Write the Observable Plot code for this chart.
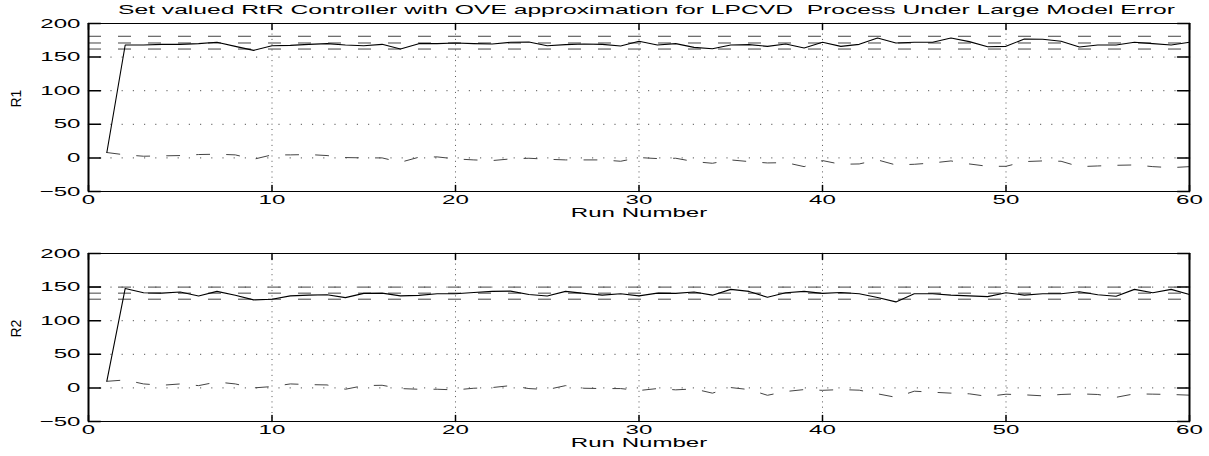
<!DOCTYPE html>
<html><head><meta charset="utf-8">
<script src="https://cdn.jsdelivr.net/npm/d3@7"></script>
<script src="https://cdn.jsdelivr.net/npm/@observablehq/plot@0.6"></script>
<style>
body{margin:0;background:#fff;}
#wrap{position:relative;width:1209px;height:456px;overflow:hidden;font-family:"Liberation Sans",Arial,sans-serif;background:#fff;}
#title{position:absolute;top:1.5px;left:0;white-space:nowrap;font-size:13px;line-height:16px;transform-origin:0 0;color:#000;}
.panel{position:absolute;left:0;}
</style></head><body>
<div id="wrap"><div id="title"></div></div>
<script>
const titleText = "Set valued RtR Controller with OVE approximation for LPCVD\u00a0 Process Under Large Model Error";
const xLabel = "Run Number";
const panelLabels = ["R1", "R2"];
const runs = [1,2,3,4,5,6,7,8,9,10,11,12,13,14,15,16,17,18,19,20,21,22,23,24,25,26,27,28,29,30,31,32,33,34,35,36,37,38,39,40,41,42,43,44,45,46,47,48,49,50,51,52,53,54,55,56,57,58,59,60];
const xDomain = [0, 60];
const yDomain = [-50, 200];
const xTicks = [0, 10, 20, 30, 40, 50, 60];
const yTicks = [-50, 0, 50, 100, 150, 200];

const r1Output = [8,168,168,169,169,170,172,166,160,167,167.5,169,170,168,167,169,162,170,170,171,170,169.5,172,172.5,167,168.5,169.5,169,166.5,173.5,168,170,164.5,162.5,168,168.5,166,169.5,163.5,172,166,169,178.5,171,172,172,178.5,173,165.5,166,177,176.5,173.5,165,168,168,172,170,168,172];
const r1Drift = [8,4.5,2.5,3,3.5,5,5.5,4.5,-2,4.5,4.5,5,3.5,0.5,0,0,-6.5,1,1.5,-1.5,-3,-4,-1.5,-0.5,-2,-3,-3,-3,-5,0.5,-1,-0.5,-5.5,-8,-3,-5.5,-7.5,-7,-13,-4,-9.5,-9,-3,-10.5,-9.5,-7.5,-4.5,-9,-12.5,-12.5,-5.5,-4.5,-5,-13,-12,-11,-10.5,-13,-14.5,-13];
const r1Limits = [181, 171, 162];

const r2Output = [10,148,141.7,141,142.6,136.8,143.6,138,131,132,137,138,138.7,134.3,140.7,141,137,137.7,140,140,142,143.6,144,139,136.8,143.6,140.7,138,140,137,141,140.7,142.6,138,146.6,143.6,134.8,141.7,143.6,140.7,142,140,134.5,128,140,140,138,137,135.8,141.7,138,140,140,143,138.7,136.3,146.6,141.7,146.6,139];
const r2Drift = [9.8,11.8,5.9,3.9,5.9,3.4,8.8,5.9,0,2,5.9,4.9,4.4,-2,3.4,3.9,-1,-2,-2,-3,-0.5,0.5,3.4,-1,-2.5,3.4,-0.5,-1,-1,-3.9,-1,-2.9,-1.5,-7.8,0.5,-2.5,-11,-5.4,-2.5,-3.6,-2.5,-3.4,-8.8,-14,-4.9,-6.4,-7.8,-8.8,-12.7,-9.4,-10.3,-11.8,-9.8,-8.8,-9.8,-14,-8.8,-9.3,-9.8,-10.8];
const r2Limits = [150, 141, 132];

const STRETCH = 1.85;
const font = "Liberation Sans, Arial, Helvetica, sans-serif";
const tickShape = {draw(ctx, l) { ctx.moveTo(0, 0); ctx.lineTo(0, -l); }};

function stretch(svg, k) {
  svg.querySelectorAll("text").forEach(t => {
    const tr = t.getAttribute("transform") || "";
    if (tr.includes("rotate")) return;
    const len = t.getComputedTextLength();
    if (len > 0) {
      t.setAttribute("textLength", (len * k).toFixed(1));
      t.setAttribute("lengthAdjust", "spacingAndGlyphs");
    }
  });
}

function makePanel(out, drift, limits, label, top) {
  const pts = runs.map((r, i) => ({run: r, out: out[i], drift: drift[i]}));
  const chart = Plot.plot({
    width: 1209, height: 230,
    marginLeft: 88, marginRight: 20, marginTop: 23, marginBottom: 39,
    style: {fontFamily: font, fontSize: "13px", background: "transparent", color: "#000"},
    x: {domain: xDomain},
    y: {domain: yDomain},
    marks: [
      Plot.gridX(xTicks, {stroke: "#555", strokeOpacity: 1, strokeWidth: 1, strokeDasharray: "1,4.3"}),
      Plot.gridY(yTicks, {stroke: "#555", strokeOpacity: 1, strokeWidth: 1, strokeDasharray: "1.2,10"}),
      Plot.ruleY(limits, {stroke: "#444", strokeWidth: 1, strokeDasharray: "13,17"}),
      Plot.line(pts, {x: "run", y: "drift", stroke: "#444", strokeWidth: 1, strokeDasharray: "13,17"}),
      Plot.line(pts, {x: "run", y: "out", stroke: "#000", strokeWidth: 1.1}),
      Plot.frame({stroke: "#000", strokeWidth: 1}),
      Plot.ruleX(xDomain, {stroke: "#000", strokeWidth: 2}),
      Plot.vector(xTicks, {x: d => d, y: () => yDomain[0], length: 6, rotate: 0, anchor: "start", shape: tickShape, stroke: "#000"}),
      Plot.vector(xTicks, {x: d => d, y: () => yDomain[1], length: 6, rotate: 180, anchor: "start", shape: tickShape, stroke: "#000"}),
      Plot.vector(yTicks, {x: () => xDomain[0], y: d => d, length: 12, rotate: 90, anchor: "start", shape: tickShape, stroke: "#000"}),
      Plot.vector(yTicks, {x: () => xDomain[1], y: d => d, length: 12, rotate: 270, anchor: "start", shape: tickShape, stroke: "#000"}),
      Plot.axisX(xTicks, {tickSize: 0, tickPadding: 3, label: null, fontSize: 13, fill: "#000"}),
      Plot.axisY(yTicks, {tickSize: 0, tickPadding: 8, label: null, fontSize: 13, fill: "#000"}),
      Plot.text([xLabel], {frameAnchor: "bottom", dy: 25, text: d => d, fontSize: 13, fill: "#000"}),
      Plot.text([label], {frameAnchor: "left", dx: -72, rotate: -90, text: d => d, fontSize: 14, fill: "#000"})
    ]
  });
  chart.classList.add("panel");
  chart.style.top = top + "px";
  document.getElementById("wrap").appendChild(chart);
  stretch(chart, STRETCH);
}

const title = document.getElementById("title");
title.textContent = titleText;
const tw = title.getBoundingClientRect().width;
const sx = 1057 / tw;
title.style.transform = `translate(118px,0) scaleX(${sx})`;

makePanel(r1Output, r1Drift, r1Limits, panelLabels[0], 0);
makePanel(r2Output, r2Drift, r2Limits, panelLabels[1], 230);
</script>
</body></html>
